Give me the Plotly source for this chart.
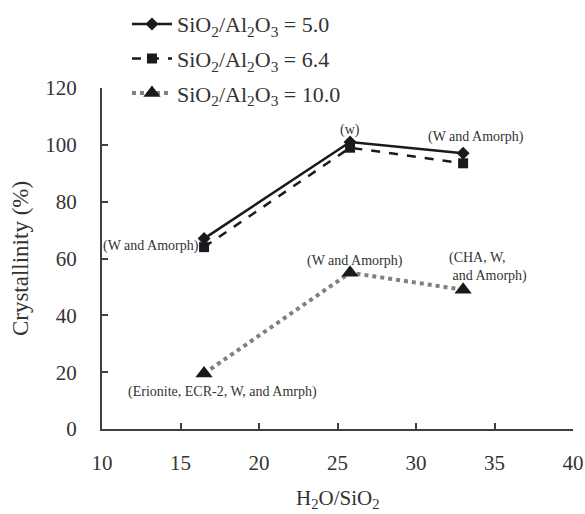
import plotly.graph_objects as go

h2o_sio2 = [16.5, 25.8, 33.0]
cryst_50 = [67, 101, 97]
cryst_64 = [64, 99, 93.5]
cryst_100 = [19.5, 55, 49]

names = ["SiO<sub>2</sub>/Al<sub>2</sub>O<sub>3</sub> = 5.0",
         "SiO<sub>2</sub>/Al<sub>2</sub>O<sub>3</sub> = 6.4",
         "SiO<sub>2</sub>/Al<sub>2</sub>O<sub>3</sub> = 10.0"]

x_ticks = [10, 15, 20, 25, 30, 35, 40]
y_ticks = [0, 20, 40, 60, 80, 100, 120]

FONT = "Liberation Serif, Times New Roman, serif"
TXT = "#333333"

fig = go.Figure()
fig.add_trace(go.Scatter(x=h2o_sio2, y=cryst_50, name=names[0], mode="lines+markers",
                         line=dict(color="#1a1a1a", width=2.5),
                         marker=dict(symbol="diamond", size=10, color="#1a1a1a"),
                         legendgroup="a"))
fig.add_trace(go.Scatter(x=h2o_sio2, y=cryst_64, name=names[1], mode="lines+markers",
                         line=dict(color="#1a1a1a", width=2.5, dash="dash"),
                         marker=dict(symbol="square", size=10, color="#1a1a1a"),
                         legendgroup="b"))
fig.add_trace(go.Scatter(x=h2o_sio2, y=cryst_100, name=names[2], mode="lines+markers",
                         line=dict(color="#808080", width=4, dash="dot"),
                         marker=dict(symbol="triangle-up", size=15, color="#1a1a1a"),
                         legendgroup="c"))

ann = dict(showarrow=False, font=dict(family=FONT, size=14, color=TXT), xref="x", yref="y")
fig.add_annotation(x=h2o_sio2[0], y=cryst_64[0], text="(W and Amorph)", xanchor="right",
                   yanchor="middle", xshift=-3, yshift=1, **ann)
fig.add_annotation(x=h2o_sio2[1], y=cryst_50[1], text="(w)", xanchor="center",
                   yanchor="bottom", yshift=2, **ann)
fig.add_annotation(x=h2o_sio2[2], y=cryst_50[2], text="(W and Amorph)", xanchor="center",
                   yanchor="bottom", xshift=13, yshift=6, **ann)
fig.add_annotation(x=h2o_sio2[1], y=cryst_100[1], text="(W and Amorph)", xanchor="center",
                   yanchor="bottom", xshift=5, yshift=2, **ann)
fig.add_annotation(x=h2o_sio2[2], y=cryst_100[2], text="(CHA, W,<br> and Amorph)", xanchor="left",
                   align="left", yanchor="bottom", xshift=-16, yshift=4, **ann)
fig.add_annotation(x=h2o_sio2[0], y=cryst_100[0], text="(Erionite, ECR-2, W, and Amrph)",
                   xanchor="center", yanchor="top", xshift=18, yshift=-8, **ann)

# x-axis title placed as a paper annotation for precise vertical position
fig.add_annotation(x=0.5, y=-0.205, xref="paper", yref="paper", showarrow=False,
                   text="H<sub>2</sub>O/SiO<sub>2</sub>", xanchor="center", yanchor="middle",
                   font=dict(family=FONT, size=21, color=TXT))

axis_common = dict(showgrid=False, zeroline=False, showline=True, linecolor="#404040",
                   linewidth=2, ticks="inside", ticklen=6, tickwidth=2, tickcolor="#404040",
                   tickfont=dict(family=FONT, size=21, color=TXT))

fig.update_layout(
    width=585, height=514,
    margin=dict(l=102, r=12, t=88, b=85, autoexpand=False),
    paper_bgcolor="white", plot_bgcolor="white",
    font=dict(family=FONT, color=TXT),
    xaxis=dict(range=[10, 40], tickvals=x_ticks, ticktext=[str(v) for v in x_ticks],
               ticklabelstandoff=14, **axis_common),
    yaxis=dict(range=[0, 120], tickvals=y_ticks, ticktext=[str(v) for v in y_ticks],
               ticklabelstandoff=19,
               title=dict(text="Crystallinity (%)", font=dict(family=FONT, size=23, color=TXT), standoff=10),
               **axis_common),
    legend=dict(x=0.053, y=1.249, xanchor="left", yanchor="top", traceorder="grouped",
                tracegroupgap=3, bgcolor="rgba(0,0,0,0)",
                font=dict(family=FONT, size=22, color=TXT), itemwidth=40),
    showlegend=True,
)

fig.write_html("out.html")
